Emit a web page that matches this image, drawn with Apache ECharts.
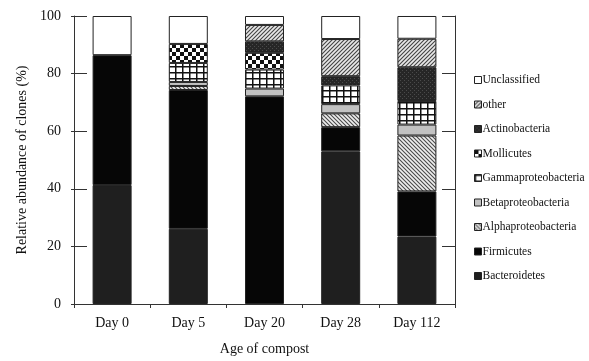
<!DOCTYPE html>
<html><head><meta charset="utf-8">
<script src="https://cdn.jsdelivr.net/npm/echarts@6/dist/echarts.min.js"></script>
<style>html,body{margin:0;padding:0;background:#fff}#c{width:589px;height:361px}</style>
</head><body><div id="c"></div>
<script>
var categories = ['Day 0', 'Day 5', 'Day 20', 'Day 28', 'Day 112'];
var bacteroidetes = [41.3, 26.1, 0, 53.0, 23.4];
var firmicutes = [45.1, 48.2, 72.1, 8.4, 15.7];
var alphaproteobacteria = [0, 1.4, 0, 4.8, 19.4];
var betaproteobacteria = [0, 1.4, 2.7, 3.2, 3.8];
var gammaproteobacteria = [0, 6.6, 6.6, 6.5, 8.2];
var mollicutes = [0, 6.6, 5.8, 0, 0];
var actinobacteria = [0, 0, 4.0, 3.2, 11.7];
var other = [0, 0, 5.7, 12.9, 9.9];
var unclassified = [13.6, 9.7, 3.1, 8.0, 7.9];
var yTicks = [0, 20, 40, 60, 80, 100];

function mk(w, h, draw) {
  var c = document.createElement('canvas'); c.width = w; c.height = h;
  var g = c.getContext('2d'); draw(g, w, h);
  return { image: c, repeat: 'repeat' };
}
var patOther = mk(4, 4, function (g, w, h) {
  g.fillStyle = '#e8e8e8'; g.fillRect(0, 0, w, h);
  g.strokeStyle = '#444'; g.lineWidth = 1.1;
  g.beginPath(); g.moveTo(-1, 5); g.lineTo(5, -1); g.moveTo(-1, 1); g.lineTo(1, -1); g.moveTo(3, 5); g.lineTo(5, 3); g.stroke();
});
var patAlpha = mk(4, 4, function (g, w, h) {
  g.fillStyle = '#eeeeee'; g.fillRect(0, 0, w, h);
  g.strokeStyle = '#4a4a4a'; g.lineWidth = 1.1;
  g.beginPath(); g.moveTo(-1, -1); g.lineTo(5, 5); g.moveTo(3, -1); g.lineTo(5, 1); g.moveTo(-1, 3); g.lineTo(1, 5); g.stroke();
});
var patActino = mk(4, 4, function (g, w, h) {
  g.fillStyle = '#262626'; g.fillRect(0, 0, w, h);
  g.fillStyle = '#4a4a4a'; g.fillRect(0, 0, 1, 1); g.fillRect(2, 2, 1, 1);
});
var patMolli = mk(8, 8, function (g, w, h) {
  g.fillStyle = '#ffffff'; g.fillRect(0, 0, w, h);
  g.fillStyle = '#111'; g.fillRect(0, 0, 4, 4); g.fillRect(4, 4, 4, 4);
});
var patGamma = mk(7, 6, function (g, w, h) {
  g.fillStyle = '#ffffff'; g.fillRect(0, 0, w, h);
  g.fillStyle = '#111'; g.fillRect(0, 0, 1.5, h); g.fillRect(0, 0, w, 1.5);
});

var font = 'Liberation Serif';
function nz(a) { return a.map(function (v) { return v === 0 ? null : v; }); }
var defs = [
  ['Bacteroidetes', bacteroidetes, '#1f1f1f'],
  ['Firmicutes', firmicutes, '#060606'],
  ['Alphaproteobacteria', alphaproteobacteria, patAlpha],
  ['Betaproteobacteria', betaproteobacteria, '#c2c2c2'],
  ['Gammaproteobacteria', gammaproteobacteria, patGamma],
  ['Mollicutes', mollicutes, patMolli],
  ['Actinobacteria', actinobacteria, patActino],
  ['other', other, patOther],
  ['Unclassified', unclassified, '#ffffff']
];
var series = defs.map(function (d) {
  return {
    name: d[0], type: 'bar', stack: 'all', data: nz(d[1]), barWidth: 39,
    itemStyle: { color: d[2], borderColor: '#222', borderWidth: 1 },
    emphasis: { disabled: true }
  };
});

var chart = echarts.init(document.getElementById('c'), null, { renderer: 'canvas' });
chart.setOption({
  animation: false,
  backgroundColor: '#ffffff',
  textStyle: { fontFamily: font, color: '#111' },
  grid: { left: 74, right: 134, top: 16, bottom: 54 },
  legend: {
    orient: 'vertical', left: 469, top: 69,
    data: defs.map(function (d) { return d[0]; }).reverse(),
    itemWidth: 7, itemHeight: 7, itemGap: 12.5, icon: 'rect',
    itemStyle: { borderColor: '#222', borderWidth: 1 },
    textStyle: { fontFamily: font, fontSize: 11.5, color: '#111', lineHeight: 12, padding: [0, 0, 0, -4] },
    selectedMode: false
  },
  xAxis: {
    type: 'category', data: categories,
    axisLine: { lineStyle: { color: '#333', width: 1 } },
    axisTick: { show: true, length: 4, lineStyle: { color: '#333' } },
    axisLabel: { fontFamily: font, fontSize: 14, color: '#111', margin: 12 },
    name: 'Age of compost', nameLocation: 'middle', nameGap: 38,
    nameTextStyle: { fontFamily: font, fontSize: 14, color: '#111' }
  },
  yAxis: [{
    type: 'value', min: yTicks[0], max: yTicks[yTicks.length - 1], interval: 20,
    axisLine: { show: true, lineStyle: { color: '#333' } },
    axisTick: { show: true, inside: true, length: 13, lineStyle: { color: '#333' } },
    axisLabel: { fontFamily: font, fontSize: 14, color: '#111', margin: 13 },
    splitLine: { show: false },
    name: 'Relative abundance of clones (%)', nameLocation: 'middle', nameGap: 45,
    nameTextStyle: { fontFamily: font, fontSize: 14, color: '#111' }
  }, {
    type: 'value', position: 'right', min: yTicks[0], max: yTicks[yTicks.length - 1], interval: 20,
    axisLine: { show: true, lineStyle: { color: '#333' } },
    axisTick: { show: true, inside: true, length: 13, lineStyle: { color: '#333' } },
    axisLabel: { show: false }, splitLine: { show: false }
  }, {
    type: 'value', position: 'left', min: yTicks[0], max: yTicks[yTicks.length - 1], interval: 20,
    axisLine: { show: false },
    axisTick: { show: true, inside: false, length: 3, lineStyle: { color: '#333' } },
    axisLabel: { show: false }, splitLine: { show: false }
  }],
  series: series
});
</script>
</body></html>
